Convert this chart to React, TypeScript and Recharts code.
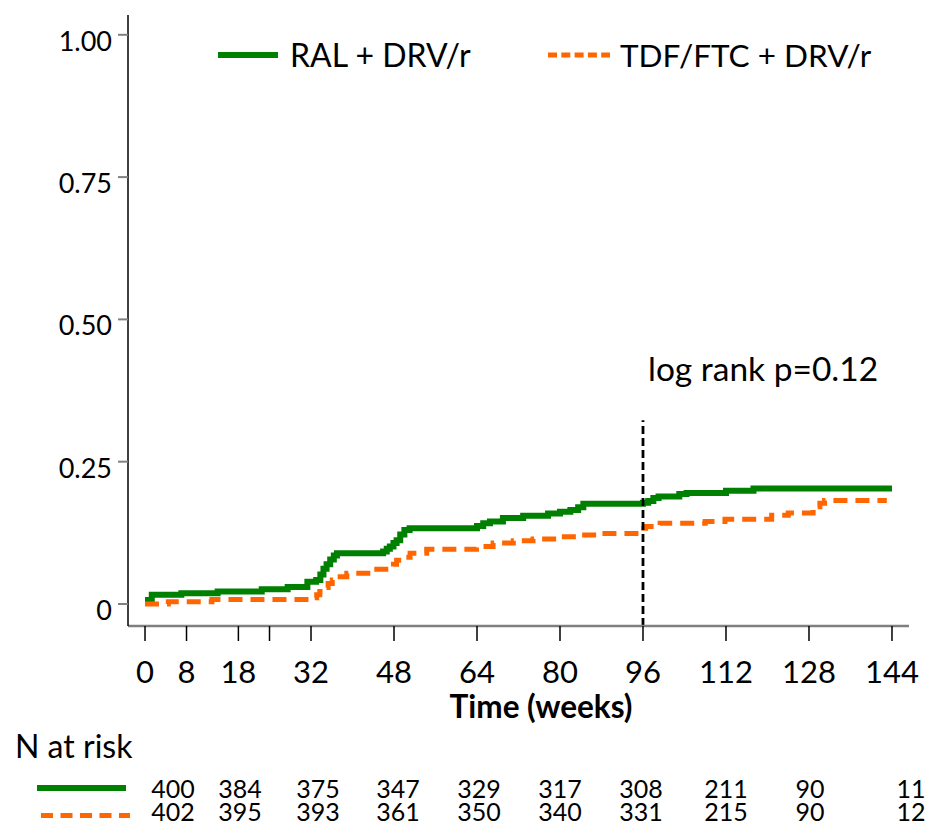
import React from 'react';
import { LineChart, Line, XAxis, YAxis, ReferenceLine } from 'recharts';

const FONT = 'Lato, "Open Sans", sans-serif';
const GREEN = '#008000';
const ORANGE = '#FF6600';

// Cumulative incidence, RAL + DRV/r
const ralWeeks = [0, 1.3, 7, 14, 22.5, 27.5, 31.3, 33, 33.8, 34.4, 35, 35.7, 36.4, 37, 45.9, 46.6, 47.2, 47.9, 48.5, 49.2, 50, 51, 64, 65.2, 66.5, 69, 72.9, 77.7, 80, 82, 83.5, 84.5, 96, 97, 98, 99, 103, 104.4, 112, 117.3, 144];
const ralCum = [0.007, 0.016, 0.019, 0.022, 0.026, 0.03, 0.039, 0.042, 0.052, 0.062, 0.07, 0.078, 0.085, 0.089, 0.092, 0.097, 0.101, 0.107, 0.112, 0.122, 0.13, 0.133, 0.137, 0.142, 0.145, 0.151, 0.155, 0.159, 0.162, 0.165, 0.17, 0.176, 0.178, 0.181, 0.186, 0.189, 0.193, 0.195, 0.199, 0.203, 0.203];

// Cumulative incidence, TDF/FTC + DRV/r
const tdfWeeks = [0, 4.5, 12.9, 32.4, 33.1, 33.7, 34.5, 35.3, 36.1, 37, 38.9, 44, 47.2, 47.9, 48.5, 50, 51.1, 54.3, 63.9, 67.1, 71, 74.8, 79.4, 83.2, 87.1, 95.4, 96.5, 99.3, 108, 111.8, 120.8, 124, 128.8, 130.1, 131, 143];
const tdfCum = [0, 0.004, 0.008, 0.011, 0.016, 0.022, 0.029, 0.036, 0.042, 0.048, 0.054, 0.061, 0.064, 0.07, 0.077, 0.082, 0.089, 0.096, 0.101, 0.107, 0.111, 0.114, 0.118, 0.121, 0.124, 0.133, 0.136, 0.142, 0.145, 0.149, 0.156, 0.16, 0.171, 0.177, 0.182, 0.182];

const seriesNames = ['RAL + DRV/r', 'TDF/FTC + DRV/r'];

const xTicks = [0, 8, 18, 24, 32, 48, 64, 80, 96, 112, 128, 144];
const xTickLabels = ['0', '8', '18', '', '32', '48', '64', '80', '96', '112', '128', '144'];
const yTicks = [0, 0.25, 0.5, 0.75, 1];
const yTickLabels = ['0', '0.25', '0.50', '0.75', '1.00'];

const riskRal = [400, 384, 375, 347, 329, 317, 308, 211, 90, 11];
const riskTdf = [402, 395, 393, 361, 350, 340, 331, 215, 90, 12];

const cutoffWeek = 96;
const cutoffTop = 0.323;
const logRankText = 'log rank p=0.12';
const xAxisTitle = 'Time (weeks)';
const riskTitle = 'N at risk';

const X_DOMAIN: [number, number] = [-3.28, 147.28];
const Y_DOMAIN: [number, number] = [-0.0387, 1.0348];

const riskColX = [173, 240, 318, 398, 479, 560, 641, 726, 810, 911];

const ralData = ralWeeks.map((t, i) => ({ t, v: ralCum[i] }));
const tdfData = tdfWeeks.map((t, i) => ({ t, v: tdfCum[i] }));

const XTick = (props: any) => {
  const { x, y, payload } = props;
  const idx = xTicks.indexOf(payload.value);
  const label = idx >= 0 ? xTickLabels[idx] : String(payload.value);
  return (
    <text x={x} y={y} dy={42} textAnchor="middle" fontFamily={FONT} fontSize={31} fill="#000">
      {label}
    </text>
  );
};

const YTick = (props: any) => {
  const { x, y, payload } = props;
  const idx = yTicks.indexOf(payload.value);
  const label = idx >= 0 ? yTickLabels[idx] : String(payload.value);
  return (
    <text x={x} y={y} dy={16} textAnchor="end" fontFamily={FONT} fontSize={27} fill="#000">
      {label}
    </text>
  );
};

export default function App() {
  return (
    <div style={{ position: 'absolute', left: 0, top: 0, width: 932, height: 827, background: '#fff' }}>
      <LineChart width={932} height={827} margin={{ top: 15, right: 23, bottom: 141, left: 28 }}>
        <XAxis
          type="number"
          dataKey="t"
          domain={X_DOMAIN}
          ticks={xTicks}
          interval={0}
          allowDataOverflow
          height={60}
          tickSize={15}
          tickMargin={0}
          axisLine={{ stroke: '#7f7f7f', strokeWidth: 2.5 }}
          tickLine={{ stroke: '#000', strokeWidth: 1.5 }}
          tick={<XTick />}
        />
        <YAxis
          type="number"
          domain={Y_DOMAIN}
          ticks={yTicks}
          interval={0}
          allowDataOverflow
          width={100}
          tickSize={10}
          tickMargin={6}
          axisLine={{ stroke: '#000', strokeWidth: 1.5 }}
          tickLine={{ stroke: '#808080', strokeWidth: 2 }}
          tick={<YTick />}
        />
        <Line
          data={ralData}
          dataKey="v"
          name={seriesNames[0]}
          type="stepAfter"
          stroke={GREEN}
          strokeWidth={6}
          dot={false}
          activeDot={false}
          isAnimationActive={false}
        />
        <Line
          data={tdfData}
          dataKey="v"
          name={seriesNames[1]}
          type="stepAfter"
          stroke={ORANGE}
          strokeWidth={5}
          strokeDasharray="14 8"
          dot={false}
          activeDot={false}
          isAnimationActive={false}
        />
        <ReferenceLine
          segment={[{ x: cutoffWeek, y: Y_DOMAIN[0] }, { x: cutoffWeek, y: cutoffTop }]}
          stroke="#000"
          strokeWidth={2.8}
          strokeDasharray="8 4"
          ifOverflow="visible"
        />
      </LineChart>
      <svg
        width={932}
        height={827}
        style={{ position: 'absolute', left: 0, top: 0, pointerEvents: 'none' }}
        fontFamily={FONT}
      >
        {/* legend */}
        <line x1={218} x2={278} y1={55} y2={55} stroke={GREEN} strokeWidth={6} />
        <text x={290} y={67} fontSize={32} fill="#000">{seriesNames[0]}</text>
        <line x1={548} x2={610} y1={55} y2={55} stroke={ORANGE} strokeWidth={5} strokeDasharray="9 4.3" />
        <text x={620} y={67} fontSize={31.5} fill="#000">{seriesNames[1]}</text>

        {/* log rank */}
        <text x={648} y={381} fontSize={33.5} fill="#000">{logRankText}</text>

        {/* x axis title */}
        <text x={541} y={718} textAnchor="middle" fontSize={31.5} fontWeight="bold" fill="#000">{xAxisTitle}</text>

        {/* at risk table */}
        <text x={15} y={758} fontSize={32} fill="#000">{riskTitle}</text>
        <line x1={37} x2={126} y1={788} y2={788} stroke={GREEN} strokeWidth={6} />
        <line x1={41} x2={130} y1={815.5} y2={815.5} stroke={ORANGE} strokeWidth={5} strokeDasharray="12 7.5" />
        {riskRal.map((n, i) => (
          <text key={'r' + i} x={riskColX[i]} y={798} textAnchor="middle" fontSize={25} fill="#000">{n}</text>
        ))}
        {riskTdf.map((n, i) => (
          <text key={'t' + i} x={riskColX[i]} y={821} textAnchor="middle" fontSize={25} fill="#000">{n}</text>
        ))}
      </svg>
    </div>
  );
}
